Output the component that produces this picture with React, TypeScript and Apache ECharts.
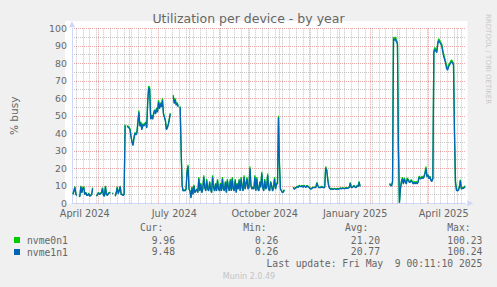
import { useEffect, useRef } from 'react';
import * as echarts from 'echarts';

// ---------- data ----------
const START_DATE_UTC = Date.UTC(2024, 3, 4); // first day of the 400-day window
const DAY_COUNT = 401;
const DAY_MS = 86400000;

const DATES: string[] = Array.from({ length: DAY_COUNT }, (_, i) =>
  new Date(START_DATE_UTC + i * DAY_MS).toISOString().slice(0, 10)
);

const X_LABEL_DATES = ['2024-04-17', '2024-07-17', '2024-10-17', '2025-01-17', '2025-04-17'];
const X_LABEL_TEXTS = ['April 2024', 'July 2024', 'October 2024', 'January 2025', 'April 2025'];

const Y_MIN = 0;
const Y_MAX = 100;
const Y_STEP = 10;

const SERIES_NAMES = ['nvme0n1', 'nvme1n1'];
const SERIES_COLORS = ['#00CC00', '#0066B3'];

// daily % busy, nvme0n1
const NVME0N1: (number | null)[] = [
  null, 5.3, 7.3, 9.6, 5.2, 4.7, null, 4, 4.2, 10, // d0
  6.3, 9, 9.5, 5.2, 6.3, 4.7, 4.7, 5.8, 4.2, 4.7, // d10
  5.2, 9, null, null, null, 4.2, 5.3, 6.3, 5.2, 5.8, // d20
  6.3, 9, 4.7, 4.2, 10, 5.2, 4.7, 5.8, 6.3, 6.2, // d30
  null, 5.8, 5.8, null, 4.2, 6.3, 9.6, 5.8, 7.3, 10, // d40
  5.2, 5.2, 4.7, 5.2, 45, null, 44.5, 44, 43.5, 42.5, // d50
  38.5, 35.5, 33.5, 37.5, 40.5, 39.5, 40.5, 46.5, 53, 44.5, // d60
  46.5, 42.5, 45.5, 44.5, 45.5, 46.5, 43.5, 58.5, 67, 66, // d70
  48.5, 50.5, 48.5, 51.5, 53.5, 51.5, 54.5, 52.5, 59, 54.5, // d80
  57.5, 55.5, 60, 51.5, 49.5, 47.5, 42.5, 43.5, 45.5, 48.5, // d90
  51.5, null, null, 62, 57.5, 60, 56.5, 57.5, 55.5, null, // d100
  55.5, 30.5, 10.3, 7.3, 7.8, 7.3, 8.3, 18.5, 22, 8.3, // d110
  7.3, 3.3, 9.5, 5.3, 10.5, 6.3, 7.3, 8.3, 6.3, 15, // d120
  7.3, 11.5, 6.3, 8.3, 16, 9.5, 7.3, 13.8, 8.3, 7.3, // d130
  12.5, 8.3, 6.3, 16, 9.5, 7.3, 11.5, 7.3, 13.8, 8.3, // d140
  7.3, 11.5, 7.3, 15, 8.3, 7.3, 12.5, 6.3, 13.8, 9.5, // d150
  7.3, 13.8, 7.3, 15, 8.3, 7.3, 13.8, 6.3, 11.5, 8.3, // d160
  13.8, 7.3, 15, 9.5, 7.3, 16, 8.3, 11.5, 15, 8.3, // d170
  9.5, 21, 10.5, 8.3, 9.5, 8.3, 16, 7.3, 15, 8.3, // d180
  7.3, 12.5, 9.5, 18, 9.5, 7.3, 13.8, 8.3, 9.5, 17, // d190
  8.3, 7.3, 12.5, 10.5, 7.3, 9.5, 15, 8.3, 11.5, 11.5, // d200
  50, 22.5, 8.3, 7.3, 6.3, 6.8, 7.8, null, null, null, // d210
  null, null, null, null, null, 9.3, 8.3, 8.8, 9.3, 9.8, // d220
  9.3, 10.3, 9.8, 9.8, 10.3, 9.3, 10.3, 9.8, 9.3, 10.3, // d230
  9.8, 9.3, 8.8, 8.3, 8.8, 9.3, 9.3, 9.3, 9.3, 12, // d240
  10.3, 9.3, 9.3, 9.3, 9.8, 9.3, 9.3, 9.3, 21, 19.5, // d250
  14.5, 10.3, 8.8, 8.3, 8.5, 8.3, 8.3, 8.6, 8.3, 8.3, // d260
  8.5, 8.3, 8.6, 8.8, 8.6, 8.8, 8.8, 8.6, 8.8, 9, // d270
  8.8, 9, 9.3, 12, 9.3, 9.3, 9.8, 10.3, 9.3, 9.3, // d280
  10.3, 9.8, 12.5, 9.8, null, null, null, null, null, null, // d290
  null, null, null, null, null, null, null, null, null, null, // d300
  null, null, null, null, null, null, null, null, null, null, // d310
  null, null, null, 11.5, 10.3, 10.3, 12.5, 95, 94, 95, // d320
  93, 92, 31, 0.3, 8.3, 12.5, 15, 11.5, 14.5, 12.5, // d330
  11.5, 14.5, 13.5, 12.5, 12.5, 13.5, 12.5, 11.5, 12.5, 11.5, // d340
  12.5, 11.5, 12.5, 15.5, 14.5, 14.5, 15.5, 14.5, 15.5, 17.5, // d350
  21, 15.5, 16.5, 14.5, 15.5, 13.5, 13, 14.5, 87, 89, // d360
  88, 87, 92, 94, 93, 92, 91, 88, 85, 83, // d370
  81, 78, 77, 79, 80, 81, 82, 81, 80, 41, // d380
  12.5, 8, 7.5, 8, 9.5, 13.5, 8.5, 9, 9, 9.5, // d390
  10, // d400
];

// daily % busy, nvme1n1
const NVME1N1: (number | null)[] = [
  null, 5, 7, 9, 5, 4.5, null, 3.8, 4, 9.5, // d0
  6, 8.5, 9, 5, 6, 4.5, 4.5, 5.5, 4, 4.5, // d10
  5, 8.5, null, null, null, 4, 5, 6, 5, 5.5, // d20
  6, 8.5, 4.5, 4, 9.5, 5, 4.5, 5.5, 6, 6, // d30
  null, 5.5, 5.5, null, 4, 6, 9, 5.5, 7, 9.5, // d40
  5, 5, 4.5, 5, 44.5, null, 44, 43.5, 43, 42, // d50
  38, 35, 33, 37, 40, 39, 40, 46, 52, 44, // d60
  46, 42, 45, 44, 45, 46, 43, 58, 66, 65, // d70
  48, 50, 48, 51, 53, 51, 54, 52, 58, 54, // d80
  57, 55, 59, 51, 49, 47, 42, 43, 45, 48, // d90
  51, null, null, 61, 57, 59, 56, 57, 55, null, // d100
  55, 30, 10, 7, 7.5, 7, 8, 18, 21, 8, // d110
  7, 3, 9, 5, 10, 6, 7, 8, 6, 14, // d120
  7, 11, 6, 8, 15, 9, 7, 13, 8, 7, // d130
  12, 8, 6, 15, 9, 7, 11, 7, 13, 8, // d140
  7, 11, 7, 14, 8, 7, 12, 6, 13, 9, // d150
  7, 13, 7, 14, 8, 7, 13, 6, 11, 8, // d160
  13, 7, 14, 9, 7, 15, 8, 11, 14, 8, // d170
  9, 20, 10, 8, 9, 8, 15, 7, 14, 8, // d180
  7, 12, 9, 17, 9, 7, 13, 8, 9, 16, // d190
  8, 7, 12, 10, 7, 9, 14, 8, 11, 11, // d200
  49, 22, 8, 7, 6, 6.5, 7.5, null, null, null, // d210
  null, null, null, null, null, 9, 8, 8.5, 9, 9.5, // d220
  9, 10, 9.5, 9.5, 10, 9, 10, 9.5, 9, 10, // d230
  9.5, 9, 8.5, 8, 8.5, 9, 9, 9, 9, 11.5, // d240
  10, 9, 9, 9, 9.5, 9, 9, 9, 20, 19, // d250
  14, 10, 8.5, 8, 8.2, 8, 8, 8.3, 8, 8, // d260
  8.2, 8, 8.3, 8.5, 8.3, 8.5, 8.5, 8.3, 8.5, 8.7, // d270
  8.5, 8.7, 9, 11.5, 9, 9, 9.5, 10, 9, 9, // d280
  10, 9.5, 12, 9.5, null, null, null, null, null, null, // d290
  null, null, null, null, null, null, null, null, null, null, // d300
  null, null, null, null, null, null, null, null, null, null, // d310
  null, null, null, 11, 10, 10, 12, 94, 93, 94, // d320
  92, 91, 30, 0.3, 8, 12, 14, 11, 14, 12, // d330
  11, 14, 13, 12, 12, 13, 12, 11, 12, 11, // d340
  12, 11, 12, 15, 14, 14, 15, 14, 15, 17, // d350
  20, 15, 16, 14, 15, 13, 12.5, 14, 86, 88, // d360
  87, 86, 91, 93, 92, 91, 90, 87, 84, 82, // d370
  80, 77, 76, 78, 79, 80, 81, 80, 79, 40, // d380
  12, 7.5, 7, 7.5, 9, 13, 8, 8.5, 8.5, 9, // d390
  9.5, // d400
];

const SERIES_DATA = [NVME0N1, NVME1N1];

const STAT_HEADERS = ['Cur:', 'Min:', 'Avg:', 'Max:'];
const STAT_CUR = ['9.96', '9.48'];
const STAT_MIN = ['0.26', '0.26'];
const STAT_AVG = ['21.20', '20.77'];
const STAT_MAX = ['100.23', '100.24'];
const LAST_UPDATE = 'Last update: Fri May\u00a0 9 00:11:10 2025';

// ---------- layout / style ----------
const W = 497;
const H = 287;
const FONT = 'DejaVu Sans';
const MONO = 'DejaVu Sans Mono';
const TEXT = '#666666';
const AXIS_COLOR = '#CFD6F8';
const MGRID = 'rgba(222,79,79,0.5)';
const GRID = 'rgba(143,143,143,0.5)';

const PLOT_L = 65.3;
const PLOT_T = 28.3;
const PLOT_W = 400;
const PLOT_H = 175;

const STAT_RIGHT_X = [175, 278.3, 380, 482.3];
const HEADER_Y = 227.3;
const ROW_Y = [240, 251.7];

const isMonday = (v: string) => new Date(v + 'T00:00:00Z').getUTCDay() === 1;
const isMonthStart = (v: string) => v.endsWith('-01');

// vertical grid: minor weekly (Mondays), major monthly
const WEEK_LINES = DATES.filter((d, i) => i > 0 && isMonday(d) && !isMonthStart(d));
const MONTH_LINES = DATES.filter((d, i) => i > 0 && isMonthStart(d));

function gridLineSeries(name: string, dates: string[], color: string, z: number) {
  return {
    type: 'line',
    name,
    data: [],
    xAxisIndex: 0,
    yAxisIndex: 0,
    silent: true,
    z,
    markLine: {
      silent: true,
      symbol: ['none', 'none'],
      label: { show: false },
      emphasis: { disabled: true },
      animation: false,
      lineStyle: { color, width: 1, type: [1, 1] },
      data: dates.map((d) => ({ xAxis: d })),
    },
  };
}

function buildOption() {
  const statCols = [STAT_CUR, STAT_MIN, STAT_AVG, STAT_MAX];
  const graphic: any[] = [
    {
      type: 'rect',
      z: -10,
      silent: true,
      shape: { x: 65, y: 21, width: 402.5, height: 182.8 },
      style: { fill: '#ffffff' },
    },
    {
      type: 'text',
      x: 488,
      y: 14,
      rotation: -Math.PI / 2,
      silent: true,
      style: {
        text: 'RRDTOOL / TOBI OETIKER',
        fontFamily: FONT,
        fontSize: 7,
        fill: '#c8c8c8',
        align: 'left',
        verticalAlign: 'middle',
      },
    },
    {
      type: 'text',
      x: 249,
      y: 276,
      silent: true,
      style: {
        text: 'Munin 2.0.49',
        fontFamily: FONT,
        fontSize: 8,
        fill: '#c4c4c4',
        align: 'center',
        verticalAlign: 'middle',
      },
    },
    {
      type: 'text',
      x: 482.3,
      y: 263.3,
      silent: true,
      style: {
        text: LAST_UPDATE,
        fontFamily: MONO,
        fontSize: 9.7,
        fill: TEXT,
        align: 'right',
        verticalAlign: 'middle',
      },
    },
  ];
  STAT_HEADERS.forEach((h, c) => {
    graphic.push({
      type: 'text',
      x: STAT_RIGHT_X[c] - 11.7,
      y: HEADER_Y,
      silent: true,
      style: { text: h, fontFamily: MONO, fontSize: 9.7, fill: TEXT, align: 'right', verticalAlign: 'middle' },
    });
  });
  SERIES_NAMES.forEach((_, r) => {
    statCols.forEach((col, c) => {
      graphic.push({
        type: 'text',
        x: STAT_RIGHT_X[c],
        y: ROW_Y[r],
        silent: true,
        style: { text: col[r], fontFamily: MONO, fontSize: 9.7, fill: TEXT, align: 'right', verticalAlign: 'middle' },
      });
    });
  });

  const dataSeries = SERIES_NAMES.map((name, k) => ({
    type: 'line',
    name,
    data: SERIES_DATA[k],
    xAxisIndex: 0,
    yAxisIndex: 0,
    showSymbol: false,
    symbol: 'none',
    connectNulls: false,
    silent: true,
    z: 5 + k,
    color: SERIES_COLORS[k],
    itemStyle: { color: SERIES_COLORS[k] },
    lineStyle: { color: SERIES_COLORS[k], width: 1.3 },
    emphasis: { disabled: true },
  }));

  return {
    animation: false,
    backgroundColor: '#F0F0F0',
    title: {
      text: 'Utilization per device - by year',
      left: 'center',
      top: 12.4,
      padding: 0,
      textStyle: { fontFamily: FONT, fontSize: 12.5, fontWeight: 'normal', color: TEXT },
    },
    legend: {
      data: SERIES_NAMES,
      orient: 'vertical',
      left: 14,
      top: 235,
      padding: 0,
      itemGap: 2,
      itemWidth: 6,
      itemHeight: 6,
      icon: 'rect',
      selectedMode: false,
      textStyle: { fontFamily: MONO, fontSize: 9.7, color: TEXT, padding: [0, 0, 0, 2] },
    },
    grid: { left: PLOT_L, top: PLOT_T, width: PLOT_W, height: PLOT_H, containLabel: false },
    xAxis: {
      type: 'category',
      data: DATES,
      boundaryGap: false,
      position: 'bottom',
      axisLine: {
        show: true,
        onZero: false,
        lineStyle: { color: AXIS_COLOR, width: 1 },
        symbol: ['none', 'triangle'],
        symbolSize: [6, 6],
        symbolOffset: [0, 5],
      },
      axisTick: { show: false },
      axisLabel: {
        interval: (_i: number, v: string) => X_LABEL_DATES.includes(v),
        formatter: (v: string) => X_LABEL_TEXTS[X_LABEL_DATES.indexOf(v)] ?? '',
        margin: 6.5,
        lineHeight: 8,
        fontFamily: FONT,
        fontSize: 9.7,
        color: TEXT,
      },
      splitLine: { show: false },
    },
    yAxis: {
      type: 'value',
      min: Y_MIN,
      max: Y_MAX,
      interval: Y_STEP,
      name: '% busy',
      nameLocation: 'middle',
      nameGap: 53,
      nameTextStyle: { fontFamily: FONT, fontSize: 10.5, color: TEXT },
      axisLine: {
        show: true,
        lineStyle: { color: AXIS_COLOR, width: 1 },
        symbol: ['none', 'triangle'],
        symbolSize: [6, 6],
        symbolOffset: [0, 4],
      },
      axisTick: { show: false },
      axisLabel: { margin: 5, lineHeight: 8, fontFamily: FONT, fontSize: 9.4, color: TEXT },
      splitLine: { show: true, lineStyle: { color: MGRID, width: 1, type: [1, 1] } },
      minorTick: { show: false, splitNumber: 2 },
      minorSplitLine: { show: true, lineStyle: { color: GRID, width: 1, type: [1, 1] } },
    },
    series: [
      gridLineSeries('week-grid', WEEK_LINES, GRID, 1),
      gridLineSeries('month-grid', MONTH_LINES, MGRID, 2),
      ...dataSeries,
    ],
    graphic,
  };
}

export default function App() {
  const ref = useRef<HTMLDivElement>(null);
  useEffect(() => {
    if (!ref.current) return;
    const chart = echarts.init(ref.current, null, { renderer: 'svg' });
    chart.setOption(buildOption() as any);
    return () => chart.dispose();
  }, []);
  return (
    <div
      ref={ref}
      style={{ position: 'absolute', left: 0, top: 0, width: W, height: H }}
    />
  );
}
